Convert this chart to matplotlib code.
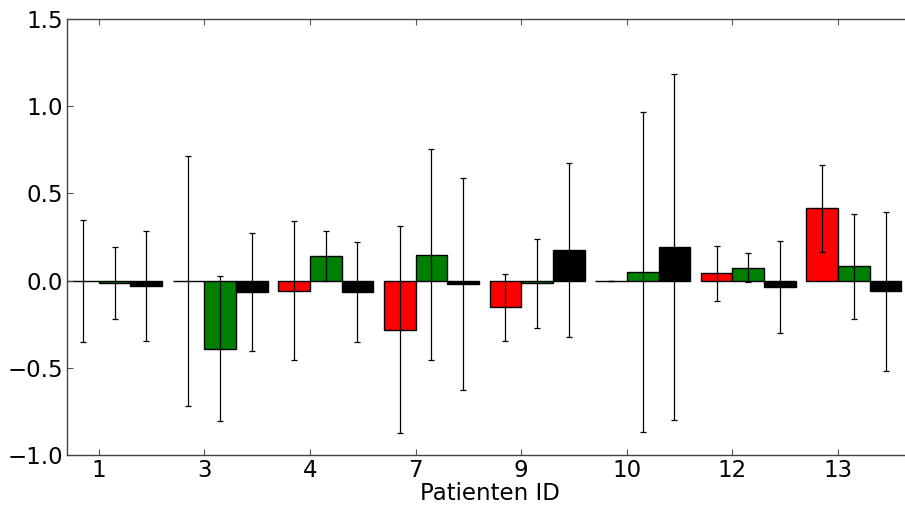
import numpy as np
import matplotlib
matplotlib.use("Agg")
import matplotlib.pyplot as plt

patients = ["1", "3", "4", "7", "9", "10", "12", "13"]

red_vals = [0.0, 0.0, -0.058, -0.281, -0.153, 0.0, 0.042, 0.415]
red_err = [0.35, 0.717, 0.40, 0.593, 0.192, 0.0, 0.157, 0.25]

green_vals = [-0.015, -0.390, 0.141, 0.149, -0.015, 0.049, 0.074, 0.082]
green_err = [0.205, 0.417, 0.142, 0.605, 0.255, 0.917, 0.082, 0.30]

black_vals = [-0.031, -0.064, -0.064, -0.019, 0.174, 0.194, -0.038, -0.060]
black_err = [0.318, 0.338, 0.287, 0.61, 0.50, 0.992, 0.265, 0.456]

fig = plt.figure(figsize=(9.05, 5.05), dpi=100)
ax = fig.add_axes([67 / 905, 50 / 505, 845 / 905, 436 / 505])

ind = np.arange(len(patients))
width = 0.3
err_kw = dict(ecolor="black", elinewidth=0.9, capsize=2.5, capthick=0.9)

ax.bar(ind, red_vals, width, color="red", edgecolor="black", linewidth=1,
       align="edge", yerr=red_err, error_kw=err_kw)
ax.bar(ind + width, green_vals, width, color="green", edgecolor="black", linewidth=1,
       align="edge", yerr=green_err, error_kw=err_kw)
ax.bar(ind + 2 * width, black_vals, width, color="black", edgecolor="black", linewidth=1,
       align="edge", yerr=black_err, error_kw=err_kw)

ax.set_xlim(0, 8)
ax.set_ylim(-1.0, 1.5)
ax.set_yticks([-1.0, -0.5, 0.0, 0.5, 1.0, 1.5])
ax.set_xticks(ind + width)
ax.set_xticklabels(patients)
ax.set_xlabel("Patienten ID", fontsize=16.5, labelpad=0)

ax.tick_params(direction="in", length=4, width=0.8, color="#555555",
               top=True, right=True, labelsize=16.5, pad=3)
for s in ax.spines.values():
    s.set_color("#444444")
    s.set_linewidth(1)

fig.savefig("out.png", dpi=100)
